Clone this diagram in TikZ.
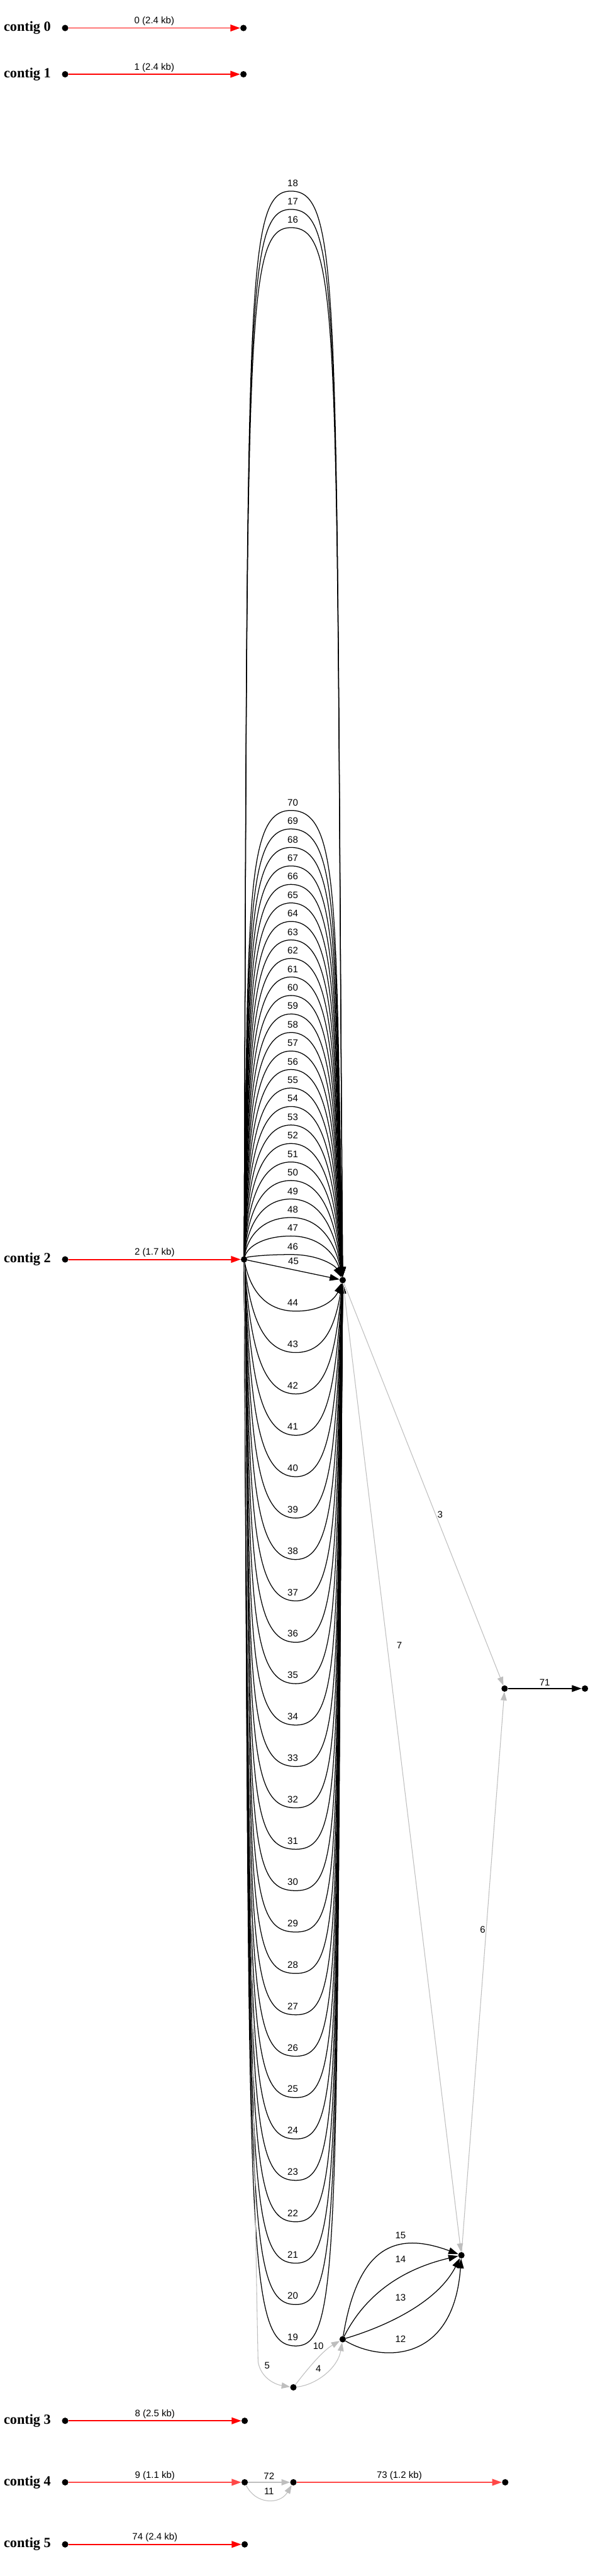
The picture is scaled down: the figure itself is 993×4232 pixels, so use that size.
\documentclass[tikz,border=0pt]{standalone}
\usepackage{fontspec}
\setmainfont{Liberation Serif}
\setsansfont{Liberation Sans}
\usetikzlibrary{arrows.meta}
\definecolor{rojo}{HTML}{FF0000}
\definecolor{rojoclaro}{HTML}{FF4848}
\definecolor{gris}{HTML}{BEBEBE}
\tikzset{
  dot/.style={circle, fill=black, inner sep=0pt, minimum size=10.5pt},
  contig/.style={anchor=west, inner sep=0pt, font=\fontsize{23}{27}\selectfont\bfseries},
  lbl/.style={inner sep=0pt, font=\fontsize{15.5}{18}\selectfont\sffamily},
  seq/.style={draw=rojo, line width=2pt, -{Triangle[length=16pt,width=11pt]}},
  link/.style={draw=black, line width=1.3pt, -{Triangle[length=16pt,width=11pt]}},
  weak/.style={draw=gris, line width=1.1pt, -{Triangle[length=14pt,width=10pt]}}
}
\begin{document}
\begin{tikzpicture}[x=1pt, y=-1pt]
  \useasboundingbox (0,0) rectangle (993,4232);
  % contigs 0 and 1
  \node [contig] at (6,46) {contig 0};
  \node (c0a) [dot] at (107,46) {};
  \node (c0b) [dot] at (400,46) {};
  \draw [seq] (c0a) -- (c0b) node[lbl, midway, above=3pt] {0 (2.4 kb)};
  \node [contig] at (6,122) {contig 1};
  \node (c1a) [dot] at (107,122) {};
  \node (c1b) [dot] at (400,122) {};
  \draw [seq] (c1a) -- (c1b) node[lbl, midway, above=3pt] {1 (2.4 kb)};
  % contig 2 and its graph
  \node [contig] at (6,2069) {contig 2};
  \node (c2a) [dot] at (107,2069) {};
  \node (j1) [dot] at (401,2069) {};
  \node (j2) [dot] at (563,2103) {};
  \node (j3) [dot] at (829,2774) {};
  \node (j4) [dot] at (961,2774) {};
  \node (j5) [dot] at (758,3705) {};
  \node (j6) [dot] at (563,3843) {};
  \node (j7) [dot] at (482,3922) {};
  \draw [seq] (c2a) -- (j1) node[lbl, midway, above=3pt] {2 (1.7 kb)};
  \foreach \n in {16,17,18,46,47,...,70} {
    \pgfmathsetmacro\yt{\n<20 ? 374-(\n-16)*30 : 2061-(\n-46)*30.4}
    \pgfmathsetmacro\hl{2069-\yt}
    \pgfmathsetmacro\hr{2103-\yt}
    \pgfmathsetmacro\aa{min(0.9,0.55+\hl/3000)}
    \pgfmathsetmacro\bb{min(1,0.55+\hl/1800)}
    \draw [link] (j1) .. controls (407,{2069-\aa*\hl}) and ({478-\bb*77},\yt) .. (478,\yt)
      .. controls ({478+\bb*85},\yt) and (551,{2103-\aa*\hr}) .. (j2);
    \node [lbl] at (481,{\yt-13}) {\n};
  }
  \draw [link] (j1) -- (j2);
  \node [lbl] at (482,2072) {45};
  \foreach \n in {19,...,44} {
    \pgfmathsetmacro\yb{2154+(44-\n)*68}
    \pgfmathsetmacro\hl{\yb-2069}
    \pgfmathsetmacro\hr{\yb-2103}
    \pgfmathsetmacro\aa{min(0.9,0.55+\hl/3000)}
    \pgfmathsetmacro\bb{min(1,0.55+\hl/1800)}
    \draw [link] (j1) .. controls (411,{2069+\aa*\hl}) and ({486-\bb*85},\yb) .. (486,\yb)
      .. controls ({486+\bb*77},\yb) and (551,{2103+\aa*\hr}) .. (j2);
    \node [lbl] at (481,{\yb-14}) {\n};
  }
  \draw [weak] (j2) -- (j3);
  \node [lbl] at (723,2488) {3};
  \draw [weak] (j2) -- (j5);
  \node [lbl] at (656,2703) {7};
  \draw [weak] (j5) -- (j3);
  \node [lbl] at (793,3170) {6};
  \draw [link] (j3) -- (j4) node[lbl, midway, above=4pt] {71};
  \draw [link] (j6) .. controls (588,3690) and (650,3665) .. (j5);
  \node [lbl] at (658,3672) {15};
  \draw [link] (j6) .. controls (600,3770) and (660,3728) .. (j5);
  \node [lbl] at (658,3712) {14};
  \draw [link] (j6) .. controls (640,3820) and (720,3780) .. (j5);
  \node [lbl] at (658,3775) {13};
  \draw [link] (j6) .. controls (625,3880) and (745,3885) .. (j5);
  \node [lbl] at (658,3843) {12};
  \draw [weak] (j7) .. controls (505,3892) and (530,3862) .. (j6);
  \node [lbl] at (523,3854) {10};
  \draw [weak] (j7) .. controls (520,3918) and (555,3890) .. (j6);
  \node [lbl] at (523,3891) {4};
  \draw [weak] (j1) .. controls (408,2900) and (418,3600) .. (424,3880)
    .. controls (428,3905) and (450,3917) .. (j7);
  \node [lbl] at (439,3886) {5};
  % contigs 3, 4 and 5
  \node [contig] at (6,3977) {contig 3};
  \node (c3a) [dot] at (107,3977) {};
  \node (c3b) [dot] at (402,3977) {};
  \draw [seq] (c3a) -- (c3b) node[lbl, midway, above=3pt] {8 (2.5 kb)};
  \node [contig] at (6,4078) {contig 4};
  \node (c4a) [dot] at (107,4078) {};
  \node (c4b) [dot] at (402,4078) {};
  \node (c4c) [dot] at (482,4078) {};
  \node (c4d) [dot] at (830,4078) {};
  \draw [seq, draw=rojoclaro] (c4a) -- (c4b) node[lbl, midway, above=3pt] {9 (1.1 kb)};
  \draw [weak] (c4b) -- (c4c) node[lbl, midway, above=4pt] {72};
  \draw [weak] (c4b) .. controls (420,4115) and (460,4115) .. (c4c);
  \node [lbl] at (442,4093) {11};
  \draw [seq, draw=rojoclaro] (c4c) -- (c4d) node[lbl, midway, above=3pt] {73 (1.2 kb)};
  \node [contig] at (6,4180) {contig 5};
  \node (c5a) [dot] at (107,4180) {};
  \node (c5b) [dot] at (402,4180) {};
  \draw [seq] (c5a) -- (c5b) node[lbl, midway, above=3pt] {74 (2.4 kb)};
\end{tikzpicture}
\end{document}
